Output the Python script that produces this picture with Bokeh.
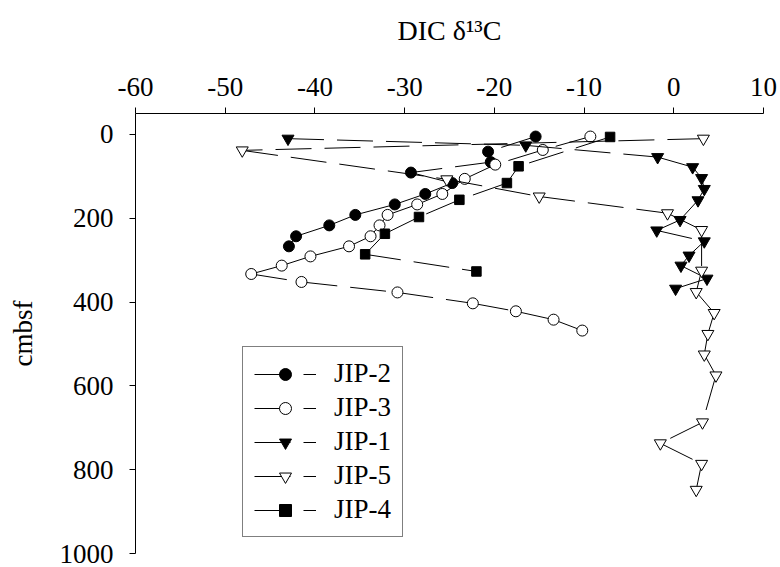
from bokeh.plotting import figure
from bokeh.models import Range1d, FixedTicker, ColumnDataSource, Legend, LegendItem
from bokeh.embed import file_html
from bokeh.resources import INLINE

# ---- data ----
x_ticks = [-60, -50, -40, -30, -20, -10, 0, 10]
y_ticks = [0, 200, 400, 600, 800, 1000]

jip2_x = [-15.4, -20.7, -20.4, -29.3, -24.7, -27.7, -31.1, -35.5, -38.4, -42.1, -42.9]
jip2_y = [5, 41, 66, 91, 116, 142, 167, 192, 217, 243, 267]

jip3_x = [-9.3, -14.6, -19.9, -23.3, -25.8, -28.6, -31.9, -32.8, -33.8, -36.2, -40.5,
          -43.7, -47.1, -41.5, -30.8, -22.4, -17.6, -13.4, -10.2]
jip3_y = [5, 37, 72, 106, 142, 167, 192, 217, 243, 267, 291,
          313, 333, 352, 377, 403, 422, 442, 468]

jip1_x = [-43.0, -16.5, -1.8, 2.1, 3.1, 3.4, 2.7, 0.7, -1.9, 3.4, 1.7, 0.8, 3.7, 0.2]
jip1_y = [10, 26, 54, 78, 104, 130, 157, 204, 229, 255, 289, 313, 344, 368]

jip5_x = [3.3, -48.1, -25.3, -15.0, -0.7, 3.1, 3.1, 2.5, 4.5, 3.8, 3.4, 4.7, 3.2, -1.5, 3.1, 2.5]
jip5_y = [10, 38, 107, 148, 188, 228, 325, 376, 426, 476, 525, 575, 687, 737, 786, 848]

jip4_x = [-7.1, -17.3, -18.6, -23.9, -28.4, -32.2, -34.4, -22.0]
jip4_y = [6, 76, 116, 156, 197, 237, 286, 327]

series_names = ["JIP-2", "JIP-3", "JIP-1", "JIP-5", "JIP-4"]
series_x = [jip2_x, jip3_x, jip1_x, jip5_x, jip4_x]
series_y = [jip2_y, jip3_y, jip1_y, jip5_y, jip4_y]

# ---- styles ----
styles = {
    "JIP-2": dict(marker="circle", size=11, fill_color="black"),
    "JIP-3": dict(marker="circle", size=11, fill_color="white"),
    "JIP-1": dict(marker="inverted_triangle", size=12, fill_color="black"),
    "JIP-5": dict(marker="inverted_triangle", size=12, fill_color="white"),
    "JIP-4": dict(marker="square", size=9.5, fill_color="black"),
}

FONT = "Liberation Serif"

p = figure(width=780, height=567, output_backend="svg", toolbar_location=None,
           x_range=Range1d(-60, 10), y_range=Range1d(1000, -50),
           x_axis_location="above", y_axis_location="left",
           min_border_left=135, min_border_right=17, min_border_top=113, min_border_bottom=14)

p.outline_line_color = None
p.xgrid.visible = False
p.ygrid.visible = False

p.xaxis.ticker = FixedTicker(ticks=x_ticks)
p.yaxis.ticker = FixedTicker(ticks=y_ticks)
p.xaxis.major_label_overrides = {t: str(t) for t in x_ticks}
for ax in (p.xaxis, p.yaxis):
    ax.axis_line_color = "black"
    ax.major_tick_line_color = "black"
    ax.minor_tick_line_color = None
    ax.major_tick_out = 6
    ax.major_tick_in = 0
    ax.major_label_text_font = FONT
    ax.major_label_text_font_size = "27px"
    ax.major_label_text_color = "black"
    ax.axis_label_text_font = FONT
    ax.axis_label_text_font_size = "27px"
    ax.axis_label_text_font_style = "normal"
    ax.axis_label_text_color = "black"

p.xaxis.axis_label = "DIC δ¹³C"
p.xaxis.axis_label_text_font_size = "28px"
p.xaxis.major_label_standoff = 12
p.xaxis.axis_label_standoff = 29
p.yaxis.axis_label = "cmbsf"
p.yaxis.major_label_standoff = 16
p.yaxis.axis_label_standoff = 19

items = []
for name, xs, ys in zip(series_names, series_x, series_y):
    st = styles[name]
    seg_src = ColumnDataSource(dict(x0=xs[:-1], y0=ys[:-1], x1=xs[1:], y1=ys[1:]))
    seg = p.segment(x0="x0", y0="y0", x1="x1", y1="y1", source=seg_src,
                    line_color="black", line_width=1, line_dash="36 13")
    sc = p.scatter(xs, ys, marker=st["marker"], size=st["size"],
                   fill_color=st["fill_color"], line_color="black", line_width=1)
    items.append(LegendItem(label=name, renderers=[seg, sc]))

legend = Legend(items=items, location=(107, 16), margin=0, padding=11, spacing=3,
                glyph_width=62, glyph_height=30, label_height=30, label_standoff=18,
                label_text_font=FONT, label_text_font_size="27px", label_text_color="black",
                border_line_color="black", border_line_width=1,
                background_fill_color="white", background_fill_alpha=1)
p.add_layout(legend)

open("out.html", "w").write(file_html(p, INLINE))
